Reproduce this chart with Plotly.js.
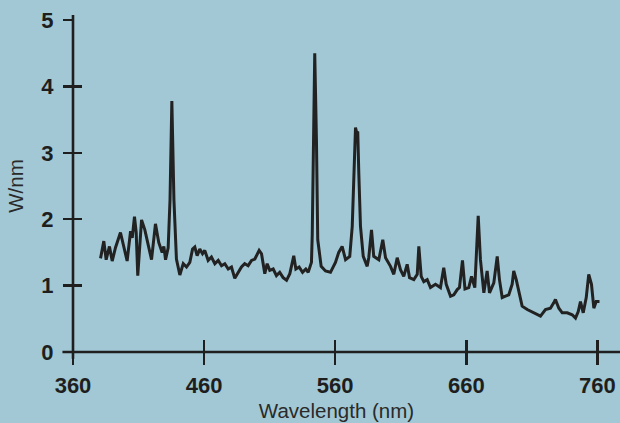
<!DOCTYPE html>
<html>
<head>
<meta charset="utf-8">
<script src="https://cdn.plot.ly/plotly-3.0.1.min.js"></script>
<style>
html,body{margin:0;padding:0;background:#a1c8d4;}
#chart{width:620px;height:423px;}
</style>
</head>
<body>
<div id="chart"></div>
<script>
// Spectral power distribution
const wavelength = [
  381.0, 383.5, 385.3, 387.8, 389.9, 392.4, 396.2, 399.5, 401.3, 403.9,
  405.2, 406.9, 408.2, 409.4, 411.0, 412.3, 414.8, 417.4, 419.9, 422.9,
  425.4, 428.0, 429.3, 430.6, 432.6, 434.0, 435.4, 437.0, 438.2, 438.9,
  441.5, 444.1, 446.6, 449.1, 451.2, 452.9, 454.7, 456.7, 458.8, 460.5,
  463.1, 465.6, 468.2, 470.8, 473.3, 475.8, 478.4, 480.9, 483.4, 486.0,
  488.5, 491.0, 493.6, 496.2, 498.7, 502.0, 503.8, 506.3, 508.1, 510.1,
  512.7, 515.2, 517.7, 520.3, 522.9, 525.4, 528.4, 530.0, 532.5, 535.1,
  537.6, 539.4, 541.9, 542.5, 543.2, 544.4, 545.7, 546.7, 549.3, 552.6,
  556.4, 560.2, 562.7, 565.3, 567.9, 571.1, 573.0, 574.2, 575.5, 576.4,
  577.2, 578.0, 579.3, 581.4, 584.4, 585.6, 587.7, 589.4, 593.3, 596.3,
  598.4, 602.2, 604.7, 607.3, 609.8, 612.3, 614.9, 616.7, 620.0, 622.6,
  623.8, 625.6, 627.6, 630.2, 632.7, 636.5, 640.3, 642.8, 644.7, 648.0,
  650.5, 653.1, 654.8, 657.1, 659.0, 661.9, 664.0, 666.5, 667.8, 669.1,
  670.8, 673.4, 675.9, 677.7, 681.0, 683.6, 685.3, 687.4, 689.9, 692.4,
  695.0, 696.2, 698.1, 700.1, 702.6, 706.5, 711.5, 716.6, 720.4, 724.2,
  726.7, 728.0, 730.6, 733.2, 737.0, 740.8, 743.3, 745.4, 747.1, 749.2,
  751.5, 753.4, 755.5, 757.3, 759.1, 761.6
];
const power = [
  1.41, 1.67, 1.39, 1.59, 1.37, 1.57, 1.80, 1.54, 1.37, 1.82,
  1.72, 2.04, 1.80, 1.15, 1.65, 1.99, 1.84, 1.59, 1.39, 1.93,
  1.65, 1.50, 1.59, 1.39, 1.57, 2.29, 3.78, 2.29, 1.54, 1.40,
  1.16, 1.33, 1.28, 1.35, 1.55, 1.58, 1.45, 1.55, 1.48, 1.53,
  1.38, 1.43, 1.33, 1.38, 1.30, 1.33, 1.25, 1.28, 1.11, 1.20,
  1.28, 1.33, 1.30, 1.38, 1.40, 1.53, 1.48, 1.18, 1.33, 1.23,
  1.25, 1.15, 1.20, 1.12, 1.08, 1.18, 1.45, 1.25, 1.28, 1.20,
  1.25, 1.20, 1.35, 1.77, 3.20, 4.50, 3.20, 1.69, 1.29, 1.22,
  1.20, 1.35, 1.50, 1.59, 1.39, 1.44, 1.89, 2.79, 3.38, 3.30,
  3.32, 2.70, 1.89, 1.44, 1.29, 1.42, 1.84, 1.44, 1.39, 1.69,
  1.42, 1.29, 1.17, 1.42, 1.24, 1.14, 1.32, 1.12, 1.09, 1.17,
  1.59, 1.14, 1.06, 1.09, 0.97, 1.02, 0.97, 1.27, 1.02, 0.84,
  0.86, 0.94, 0.97, 1.38, 0.95, 0.97, 1.14, 0.97, 1.59, 2.05,
  1.39, 0.89, 1.22, 0.89, 1.04, 1.44, 1.09, 0.82, 0.84, 0.86,
  1.02, 1.22, 1.09, 0.89, 0.69, 0.64, 0.59, 0.54, 0.64, 0.66,
  0.74, 0.79, 0.66, 0.59, 0.59, 0.56, 0.51, 0.61, 0.76, 0.59,
  0.82, 1.17, 1.02, 0.66, 0.76, 0.76
];
const xTicks = [360, 460, 560, 660, 760];
const xTickText = ['360', '460', '560', '660', '760'];
const yTicks = [0, 1, 2, 3, 4, 5];
const yTickText = ['0', '1', '2', '3', '4', '5'];
const xTitle = 'Wavelength (nm)';
const yTitle = 'W/nm';

const ink = '#1f1f1f';
const bg = '#a1c8d4';
const xRange = [360, 762];
const yRange = [0, 5];
const tickFont = {family: 'Liberation Sans, Arial, sans-serif', size: 22, color: '#1e1e1e', weight: 700};
const titleFont = {family: 'Liberation Sans, Arial, sans-serif', size: 20.5, color: '#2a2a2a'};

const traces = [
  {x: wavelength, y: power, type: 'scatter', mode: 'lines',
   line: {color: '#222222', width: 3, shape: 'linear'}, hoverinfo: 'skip', showlegend: false},
  {x: [], y: [], xaxis: 'x2', yaxis: 'y2', type: 'scatter', mode: 'lines', showlegend: false}
];

const layout = {
  width: 620, height: 423,
  margin: {l: 72.5, r: 20.4, t: 20, b: 70.5, pad: 0},
  paper_bgcolor: bg, plot_bgcolor: bg,
  showlegend: false,
  xaxis: {
    range: xRange, tickmode: 'array', tickvals: xTicks, ticktext: xTickText,
    ticks: 'outside', ticklen: 12, tickwidth: 2.5, tickcolor: ink,
    showline: false, showgrid: false, zeroline: false,
    tickfont: tickFont, ticklabelstandoff: 2,
    title: {text: xTitle, font: titleFont, standoff: 6},
    fixedrange: true
  },
  yaxis: {
    range: yRange, tickmode: 'array', tickvals: yTicks, ticktext: yTickText,
    ticks: 'outside', ticklen: 9, tickwidth: 2.5, tickcolor: ink,
    showline: false, showgrid: false, zeroline: false,
    tickfont: tickFont, ticklabelstandoff: 5,
    title: {text: yTitle, font: titleFont, standoff: 12},
    fixedrange: true
  },
  xaxis2: {
    overlaying: 'x', anchor: 'y', range: xRange, tickmode: 'array', tickvals: xTicks,
    ticks: 'inside', ticklen: 12, tickwidth: 2.5, tickcolor: ink,
    showticklabels: false, showline: false, showgrid: false, zeroline: false, fixedrange: true
  },
  yaxis2: {
    overlaying: 'y', anchor: 'x', range: yRange, tickmode: 'array', tickvals: yTicks,
    ticks: 'inside', ticklen: 9, tickwidth: 2.5, tickcolor: ink,
    showticklabels: false, showline: false, showgrid: false, zeroline: false, fixedrange: true
  },
  shapes: [
    {type: 'line', xref: 'paper', yref: 'paper', x0: -0.02, x1: 1.04, y0: 0, y1: 0,
     line: {color: ink, width: 2.6}, layer: 'above'},
    {type: 'line', xref: 'paper', yref: 'paper', x0: 0, x1: 0, y0: -0.02, y1: 1.015,
     line: {color: ink, width: 2.6}, layer: 'above'}
  ]
};

Plotly.newPlot('chart', traces, layout, {displayModeBar: false, staticPlot: true});
</script>
</body>
</html>
